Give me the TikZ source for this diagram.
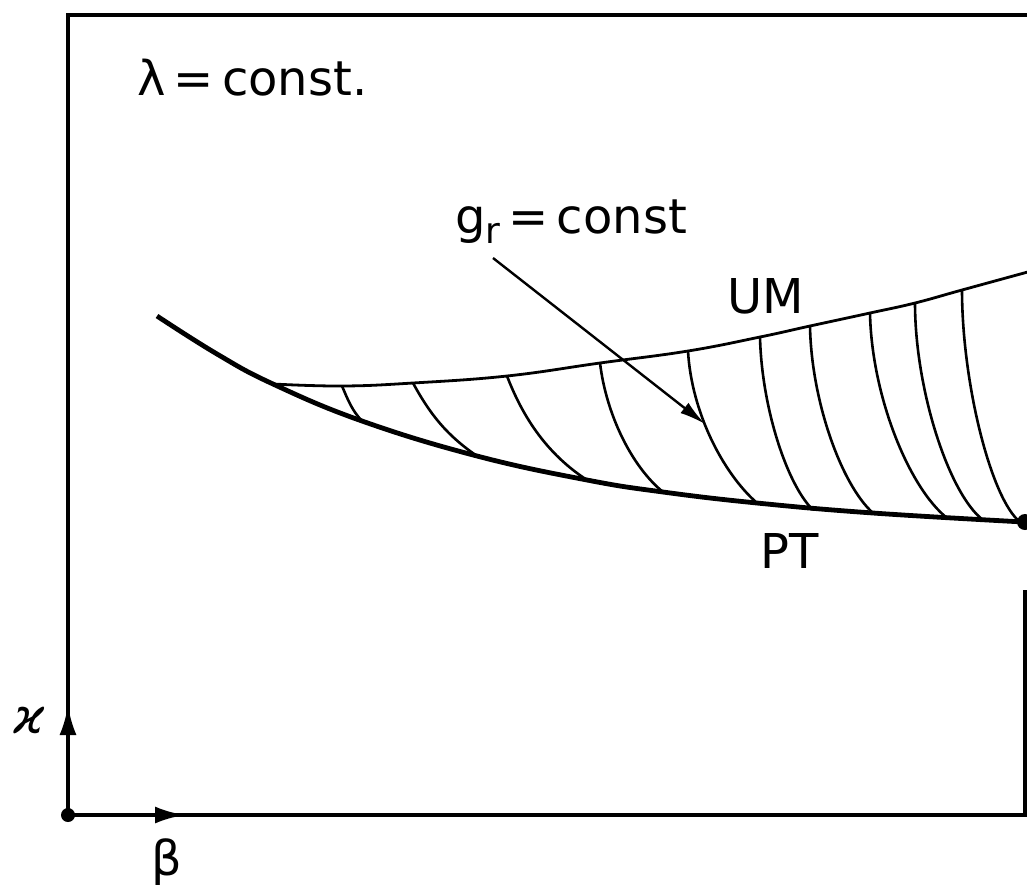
\documentclass[tikz,border=0pt]{standalone}
\usepackage{fontspec}
\setmainfont{DejaVu Sans}
\usetikzlibrary{arrows.meta}

\begin{document}
\begin{tikzpicture}[
    x=0.5pt, y=-0.5pt,
    frame/.style={line width=2pt},
    ptline/.style={line width=2.4pt},
    umline/.style={line width=1.4pt},
    hatch/.style={line width=1.3pt},
    axis/.style={line width=2pt, -{Latex[length=15pt, width=8.5pt]}},
    pointer/.style={line width=1.2pt, -{Latex[length=13pt, width=6.5pt]}},
    lbl/.style={font=\fontsize{24}{28}\selectfont, inner sep=0pt},
    dot/.style={circle, fill, inner sep=0pt, minimum size=7pt}
]
\useasboundingbox (0,0) rectangle (1027,891);

% Frame
\coordinate (o) at (68,815);
\coordinate (tl) at (68,15);
\coordinate (tr) at (1030,15);
\coordinate (br) at (1025,815);
\coordinate (rt) at (1025,590);
\draw[frame] (tr) -- (tl) -- (o) -- (br) -- (rt);

% Axes
\coordinate (ktip) at (68,705);
\coordinate (btip) at (185,815);
\draw[axis] (o) -- (ktip);
\draw[axis] (o) -- (btip);
\node[dot] (odot) at (o) {};
\node[lbl, anchor=base west] (kappa) at (13,733) {\itshape ϰ};
\node[lbl] (beta) at (167,862) {β};

% Curves
\draw[ptline] plot[smooth, tension=0.7] coordinates {(157,316) (217,354) (273,384) (362,421) (477,456) (587,480) (663,492) (757,503) (873,513) (1024,522)};
\draw[umline] plot[smooth, tension=0.7] coordinates {(273,384) (342,386) (413,383) (507,376) (600,363) (688,351) (760,337) (810,326) (870,313) (915,303) (962,290) (1035,270)};
\node[dot, minimum size=8pt] (end) at (1025,522) {};

% Lines g_r = const
\foreach \xa/\ya/\xb/\yb/\ca/\cb in {342/386/362/421/0.3/0.3, 413/383/477/456/0.25/0.3,
    507/376/587/480/0.2/0.25, 600/363/663/492/0.1/0.2, 688/351/757/503/0.05/0.2,
    760/337/813/510/0.03/0.15, 810/326/873/513/0.02/0.15, 870/313/947/518/0.02/0.15,
    915/303/983/520/0/0.12, 962/290/1020/522/0/0.1}
  \draw[hatch] (\xa,\ya) .. controls +({\ca*(\xb-\xa)},{0.4*(\yb-\ya)})
    and +({-0.5*(\xb-\xa)},{-\cb*(\yb-\ya)}) .. (\xb,\yb);

% Labels
\node[lbl, anchor=base west] (lam) at (137,95) {λ\,=\,const.};
\node[lbl, anchor=base west] (gr) at (455,233) {g\lower5pt\hbox{\fontsize{18}{18}\selectfont r}\,=\,const};
\node[lbl, anchor=base west] (um) at (727,313) {UM};
\node[lbl, anchor=base west] (pt) at (760,568) {PT};

% Pointer
\coordinate (ga) at (493,258);
\coordinate (gb) at (705,424);
\draw[pointer] (ga) -- (gb);

\end{tikzpicture}
\end{document}
